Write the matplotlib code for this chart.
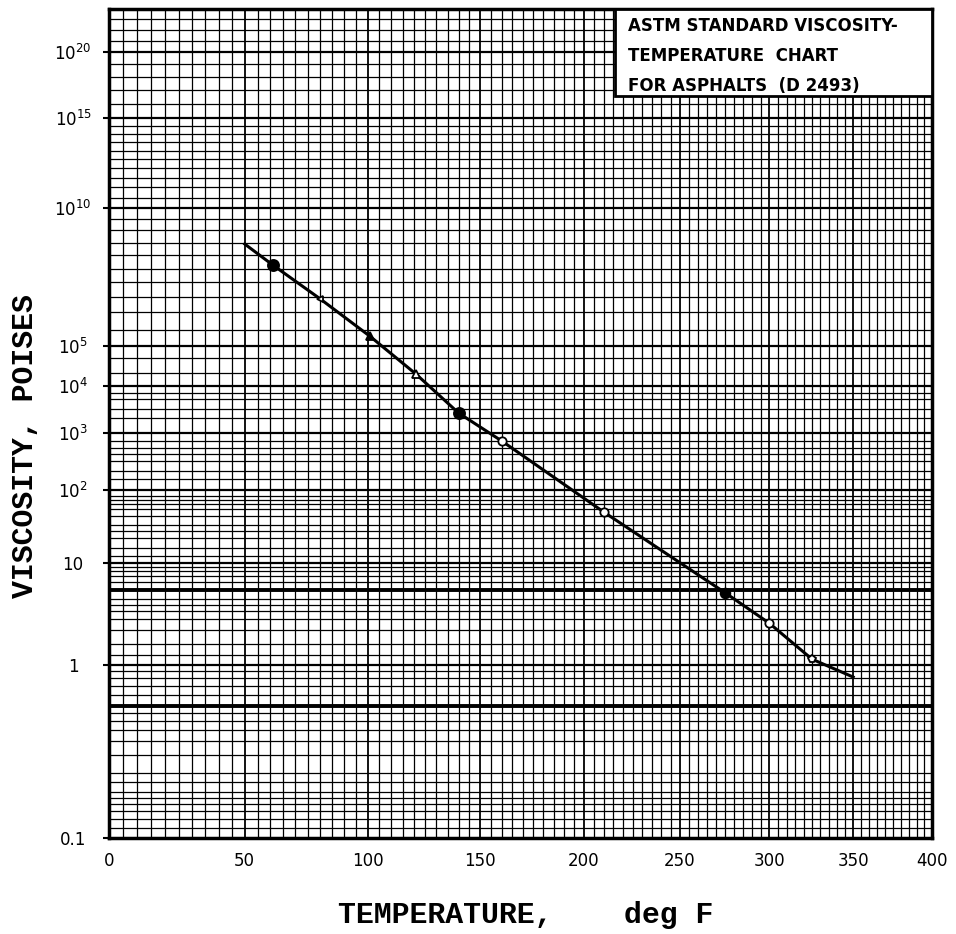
import numpy as np
import matplotlib
matplotlib.use("Agg")
import matplotlib.pyplot as plt
from matplotlib.patches import Rectangle
from matplotlib.ticker import FixedLocator, NullLocator

# -----------------------
# Data
# -----------------------
# measured points (deg F, poises)
temp_f = [61, 80, 101, 121, 140, 160, 210, 275, 300, 325]
visc_p = [4.1e7, 2.7e6, 1.9e5, 1.9e4, 2500, 690, 46, 4.6, 2.3, 1.12]
# ends of the drawn line
line_end_temp = [50, 350]
line_end_visc = [2.7e8, 0.81]

x_ticks = [0, 50, 100, 150, 200, 250, 300, 350, 400]
y_ticks = [0.1, 1, 10, 1e2, 1e3, 1e4, 1e5, 1e10, 1e15, 1e20]
y_tick_labels = ["0.1", "1", "10", "$10^2$", "$10^3$", "$10^4$", "$10^5$",
                 "$10^{10}$", "$10^{15}$", "$10^{20}$"]

box_lines = ["ASTM STANDARD VISCOSITY-", "TEMPERATURE  CHART", "FOR ASPHALTS  (D 2493)"]

# marker style of each measured point
MARKERS = [("o", True, 8), ("<", False, 5), ("^", True, 6), ("^", False, 6),
           ("o", True, 8), ("o", False, 6), ("o", False, 6), ("o", True, 7),
           ("o", False, 6), ("p", False, 6)]


# -----------------------
# ASTM scales: log(abs temperature) and log log(viscosity)
# -----------------------
def x_fwd(t):
    return np.log10(np.asarray(t, dtype=float) + 459.67)


def x_inv(u):
    return 10 ** np.asarray(u, dtype=float) - 459.67


def y_fwd(v):
    v = np.clip(np.asarray(v, dtype=float), 1e-2, None)
    return np.log10(np.log10(v) + 2.05)


def y_inv(u):
    with np.errstate(over="ignore"):
        return 10 ** (10 ** np.asarray(u, dtype=float) - 2.05)


fig = plt.figure(figsize=(9.56, 9.34), dpi=100)
ax = fig.add_axes([109 / 956, 1 - 838 / 934, (932 - 109) / 956, (838 - 9) / 934])
ax.set_xscale("function", functions=(x_fwd, x_inv))
ax.set_yscale("function", functions=(y_fwd, y_inv))
ax.set_xlim(0, 400)
ax.set_ylim(0.1, 1e24)

# --- grid: vertical every 5 deg F ---
for t in range(5, 400, 5):
    lw = 1.3 if t % 50 == 0 else 0.9
    ax.axvline(t, color="black", lw=lw, zorder=1)

# --- grid: horizontal lines ---
h_lines = [0.11, 0.12, 0.13, 0.14, 0.15, 0.16, 0.18, 0.2, 0.25, 0.3, 0.35, 0.4,
           0.45, 0.6, 0.7, 0.8, 0.9,
           1.2, 1.5, 2, 2.5, 3, 3.5, 4, 6, 7, 8, 9,
           12, 15, 20, 25, 30, 40, 50, 60, 70, 80,
           150, 200, 300, 400, 500, 700,
           2e3, 3e3, 5e3, 7e3, 2e4, 5e4]
for k in range(5, 10):
    h_lines += [3 * 10 ** k]
for k in range(6, 10):
    h_lines += [10 ** k]
for k in range(10, 15):
    h_lines += [3.16 * 10 ** k]
for k in range(11, 24):
    if k not in (15, 20):
        h_lines += [10.0 ** k]
for v in h_lines:
    ax.axhline(v, color="black", lw=0.9, zorder=1)
for v in y_ticks[1:]:
    ax.axhline(v, color="black", lw=1.6, zorder=1)
for v in [0.5, 5]:
    ax.axhline(v, color="black", lw=2.8, zorder=1)

# --- data line and points ---
line_t = [line_end_temp[0]] + temp_f + [line_end_temp[1]]
line_v = [line_end_visc[0]] + visc_p + [line_end_visc[1]]
ax.plot(line_t, line_v, color="black", lw=2.2, zorder=3)
for t, v, (m, filled, ms) in zip(temp_f, visc_p, MARKERS):
    ax.plot([t], [v], marker=m, ms=ms, mec="black", mew=1.3,
            mfc="black" if filled else "white", zorder=4, linestyle="none")

# --- ticks ---
ax.xaxis.set_major_locator(FixedLocator(x_ticks))
ax.xaxis.set_minor_locator(NullLocator())
ax.set_xticklabels([str(t) for t in x_ticks])
ax.yaxis.set_major_locator(FixedLocator(y_ticks))
ax.yaxis.set_minor_locator(NullLocator())
ax.set_yticklabels(y_tick_labels, ha="center")
ax.tick_params(axis="y", direction="out", length=4.3, width=1.5, pad=21.5, labelsize=12)
ax.tick_params(axis="x", direction="out", length=0, pad=10, labelsize=12)
for sp in ax.spines.values():
    sp.set_linewidth(2.5)

ax.set_xlabel("TEMPERATURE,    deg F", family="Liberation Mono", fontweight="bold",
              fontsize=21.5, va="center")
ax.xaxis.set_label_coords((526 - 109) / 823, (838 - 915) / 829)
ax.set_ylabel("VISCOSITY, POISES", family="Liberation Mono", fontweight="bold",
              fontsize=21.5, va="center")
ax.yaxis.set_label_coords((25 - 109) / 823, (838 - 446) / 829)

# --- title box ---
bx0 = (615 - 109) / 823
by0 = (838 - 96) / 829
ax.add_patch(Rectangle((bx0, by0), 1 - bx0, 1 - by0, transform=ax.transAxes,
                       facecolor="white", edgecolor="black", lw=2, zorder=5))
for i, s in enumerate(box_lines):
    ax.text((628 - 109) / 823, (838 - 26 - 30 * i) / 829, s, transform=ax.transAxes,
            fontsize=12, fontweight="bold", va="center", ha="left", zorder=6)

fig.savefig("out.png", dpi=100)
